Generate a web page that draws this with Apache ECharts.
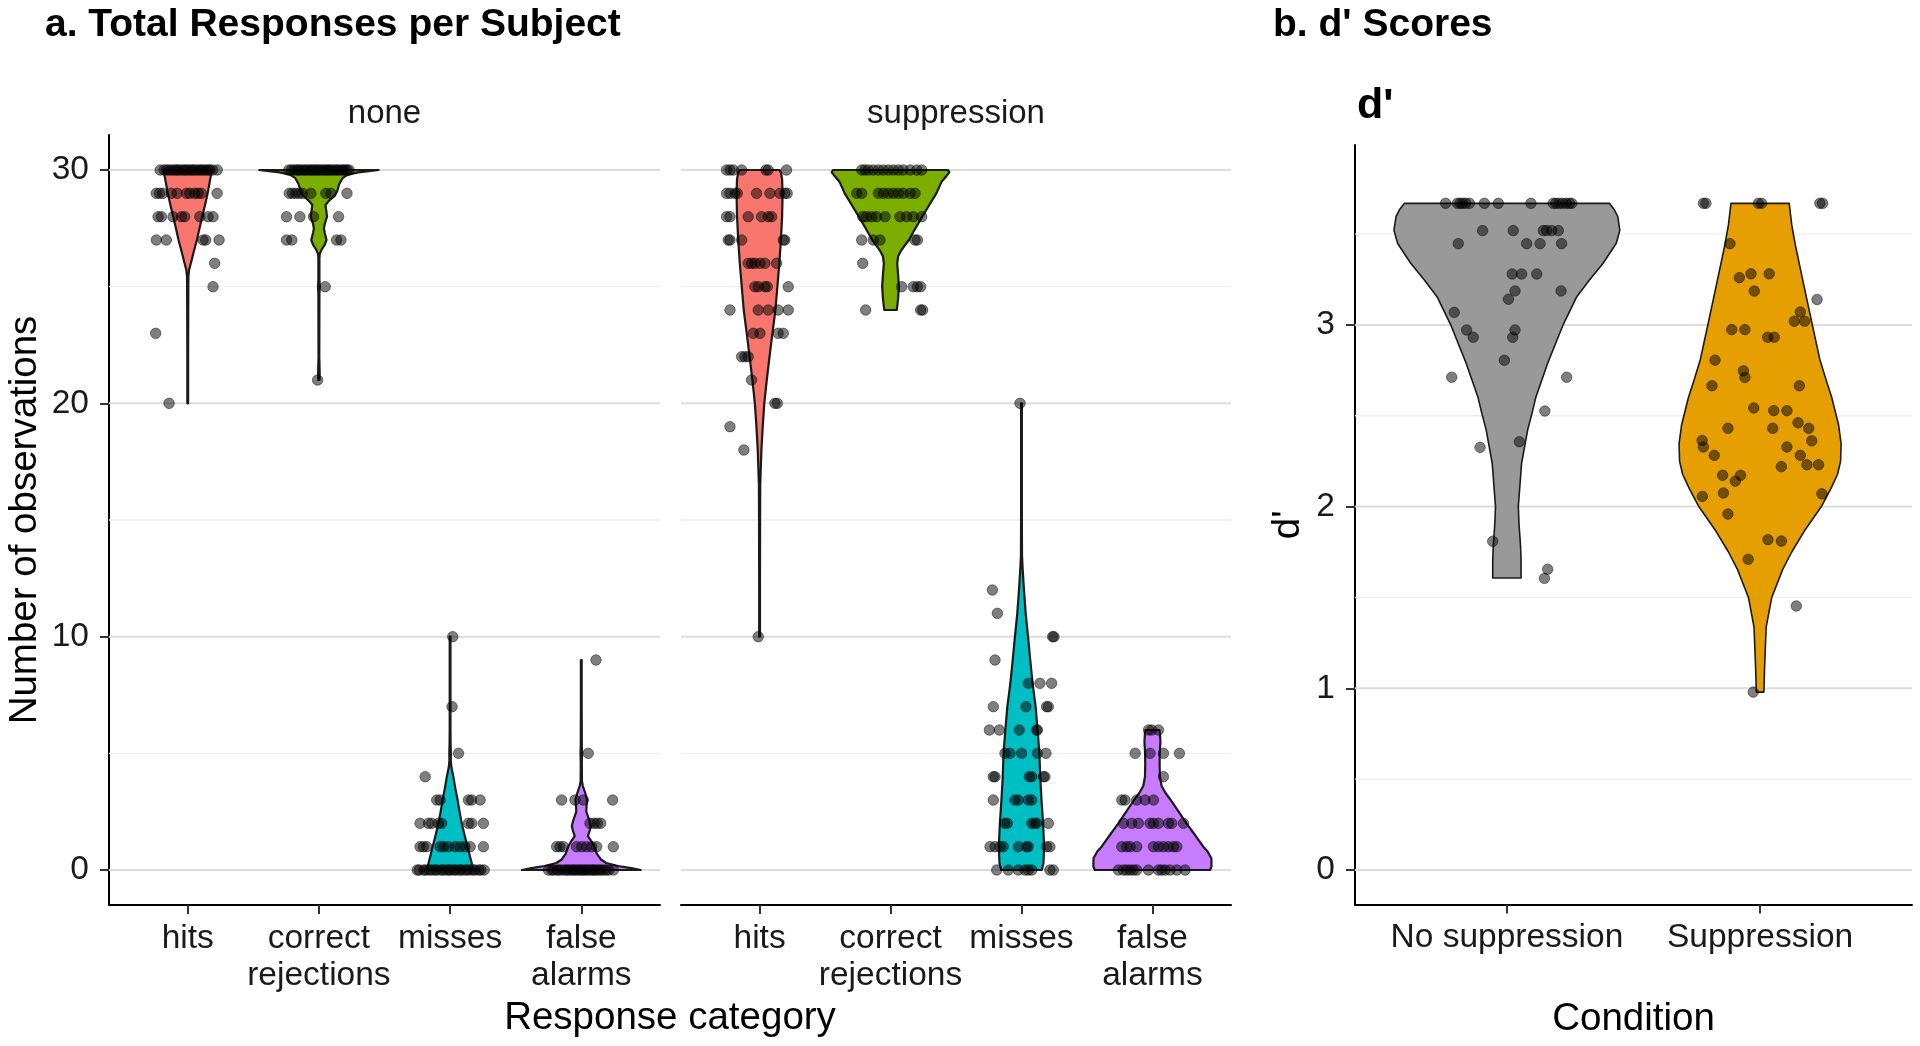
<!DOCTYPE html>
<html><head><meta charset="utf-8">
<script src="https://cdn.jsdelivr.net/npm/echarts@6/dist/echarts.min.js"></script>
<style>html,body{margin:0;padding:0;background:#fff;} #c{width:1920px;height:1046px;}</style>
</head><body><div id="c"></div><script>
// ---------- categories / ticks ----------
const responseCategories = ['hits', 'correct\nrejections', 'misses', 'false\nalarms'];
const facetNames = ['none', 'suppression'];
const countTicks = [0, 10, 20, 30];
const countMinorTicks = [5, 15, 25];
const dprimeConditions = ['No suppression', 'Suppression'];
const dprimeTicks = [0, 1, 2, 3];
const dprimeMinorTicks = [0.5, 1.5, 2.5, 3.5];
const responseColors = ['#F8766D', '#7CAE00', '#00BFC4', '#C77CFF'];
const dprimeColors = ['#999999', '#E69F00'];

// ---------- violin outlines: [value, half-width in category units] ----------
const violinNoneHits = [[30,0.183],[29.8,0.178],[29.5,0.168],[29,0.152],[28.5,0.132],[28,0.11],[27.5,0.09],[27,0.07],[26.5,0.046],[26,0.024],[25.7,0.01],[25.4,0.005],[24,0.004],[22,0.003],[20,0.003]];
const violinNoneCR = [[30,0.455],[29.95,0.38],[29.9,0.3],[29.8,0.22],[29.65,0.18],[29.4,0.155],[29.1,0.14],[28.9,0.12],[28.7,0.08],[28.5,0.05],[28.3,0.055],[28,0.062],[27.7,0.045],[27.5,0.038],[27.3,0.045],[27,0.058],[26.8,0.045],[26.6,0.022],[26.4,0.006],[26.2,0.004],[25.3,0.004],[25,0.007],[24.7,0.004],[22,0.003],[21.3,0.006],[21,0.005]];
const violinNoneMisses = [[0,0.178],[0.5,0.155],[1,0.133],[1.5,0.11],[2,0.089],[2.5,0.072],[3,0.057],[3.5,0.04],[4,0.025],[4.4,0.01],[4.7,0.005],[5,0.006],[5.4,0.004],[6,0.003],[8,0.003],[10,0.003]];
const violinNoneFA = [[0,0.453],[0.08,0.38],[0.17,0.28],[0.3,0.19],[0.45,0.15],[0.7,0.118],[1,0.1],[1.25,0.075],[1.45,0.05],[1.7,0.065],[1.9,0.072],[2.15,0.06],[2.5,0.038],[2.75,0.04],[3,0.045],[3.3,0.03],[3.6,0.012],[3.8,0.005],[4.6,0.004],[5,0.006],[5.4,0.004],[7,0.003],[9,0.003]];
const violinSuppHits = [[30,0.153],[29.85,0.165],[29.6,0.172],[29,0.176],[28,0.172],[27,0.163],[26,0.151],[25,0.136],[24,0.121],[23,0.098],[22,0.076],[21,0.055],[20,0.036],[19,0.024],[18,0.014],[17,0.008],[16.5,0.005],[15,0.004],[12,0.003],[10,0.003]];
const violinSuppCR = [[30,0.44],[29.9,0.449],[29.8,0.435],[29.5,0.39],[29,0.35],[28.5,0.296],[28,0.242],[27.5,0.19],[27,0.14],[26.7,0.1],[26.5,0.076],[26.3,0.058],[26,0.051],[25.5,0.058],[25,0.064],[24.5,0.058],[24,0.048]];
const violinSuppMisses = [[0,0.155],[0.3,0.168],[1,0.173],[2,0.165],[3,0.153],[4,0.143],[5,0.137],[6,0.123],[7,0.108],[8,0.085],[9,0.067],[10,0.05],[11,0.032],[12,0.019],[13,0.008],[13.5,0.004],[15,0.003],[18,0.003],[20,0.003]];
const violinSuppFA = [[0,0.44],[0.15,0.451],[0.5,0.45],[0.8,0.42],[1,0.388],[1.5,0.325],[2,0.26],[2.5,0.2],[3,0.14],[3.3,0.1],[3.6,0.07],[4,0.057],[4.5,0.055],[5,0.056],[5.5,0.061],[5.8,0.058],[6,0.053]];
const violinNoSupp = [[3.669,0.405],[3.632,0.425],[3.596,0.438],[3.52,0.446],[3.449,0.432],[3.339,0.38],[3.247,0.326],[3.155,0.276],[2.994,0.22],[2.789,0.161],[2.605,0.115],[2.513,0.099],[2.422,0.082],[2.238,0.058],[2.0,0.045],[1.9,0.048],[1.78,0.054],[1.7,0.056],[1.607,0.056]];
const violinSupp = [[3.669,0.115],[3.55,0.125],[3.441,0.139],[3.23,0.171],[2.995,0.207],[2.81,0.236],[2.7,0.26],[2.6,0.283],[2.45,0.31],[2.347,0.32],[2.25,0.318],[2.178,0.306],[2.1,0.28],[2.0,0.242],[1.864,0.174],[1.75,0.125],[1.653,0.089],[1.5,0.046],[1.336,0.024],[1.126,0.018],[0.979,0.015]];

// ---------- jittered points: [value, [x jitter offsets]] ----------
const pointsNoneHits = [
 [30,[-0.21,-0.18,-0.16,-0.14,-0.12,-0.1,-0.085,-0.07,-0.05,-0.03,-0.015,0.0,0.02,0.035,0.05,0.07,0.09,0.105,0.12,0.14,0.155,0.17,0.19,0.225]],
 [29,[-0.24,-0.215,-0.19,-0.125,-0.08,-0.01,0.015,0.053,0.079,0.104,0.224]],
 [28,[-0.226,-0.2,-0.112,-0.048,-0.023,0.092,0.155,0.193]],
 [27,[-0.239,-0.163,0.117,0.137,0.239]],
 [26,[0.206]],[25,[0.193]],[23,[-0.244]],[20,[-0.142]]];
const pointsNoneCR = [
 [30,[-0.23,-0.21,-0.19,-0.17,-0.155,-0.14,-0.12,-0.105,-0.09,-0.07,-0.055,-0.04,-0.025,-0.01,0.005,0.02,0.04,0.055,0.07,0.085,0.1,0.12,0.135,0.15,0.17,0.185,0.2,0.215,0.23]],
 [29,[-0.226,-0.201,-0.176,-0.15,-0.125,-0.061,0.053,0.092,0.214]],
 [28,[-0.247,-0.145,-0.041,0.15]],
 [27,[-0.247,-0.206,0.135,0.168]],
 [25,[0.048]],[21,[-0.01]]];
const pointsNoneMisses = [
 [0,[-0.25,-0.235,-0.2,-0.185,-0.16,-0.14,-0.115,-0.1,-0.07,-0.055,-0.03,-0.01,0.005,0.03,0.045,0.07,0.085,0.11,0.13,0.15,0.175,0.19,0.22,0.235,0.26]],
 [1,[-0.229,-0.204,-0.178,-0.076,-0.051,-0.013,0.038,0.076,0.114,0.153,0.254]],
 [2,[-0.229,-0.165,-0.14,-0.089,-0.064,0.14,0.165,0.254]],
 [3,[-0.102,-0.076,0.14,0.165,0.229]],
 [4,[-0.19]],[5,[0.064]],[7,[0.015]],[10,[0.02]]];
const pointsNoneFA = [
 [0,[-0.25,-0.225,-0.21,-0.185,-0.17,-0.15,-0.125,-0.11,-0.095,-0.075,-0.06,-0.045,-0.025,-0.01,0.005,0.02,0.035,0.05,0.07,0.085,0.1,0.115,0.135,0.15,0.17,0.19,0.21,0.245]],
 [1,[-0.188,-0.163,-0.137,-0.036,0.003,0.041,0.079,0.117,0.244]],
 [2,[0.066,0.097,0.122,0.148]],
 [3,[-0.15,-0.048,0.015,0.239]],
 [5,[0.053]],[9,[0.112]]];
const pointsSuppHits = [
 [30,[-0.252,-0.226,-0.201,-0.137,0.048,0.066,0.206]],
 [29,[-0.252,-0.226,-0.188,-0.17,-0.023,0.079,0.155,0.193,0.211]],
 [28,[-0.252,-0.226,-0.087,0.015,0.066,0.092]],
 [27,[-0.239,-0.226,-0.137,0.181,0.193]],
 [26,[-0.087,-0.061,-0.036,0.003,0.041,0.13]],
 [25,[-0.036,-0.01,0.041,0.059,0.219]],
 [24,[-0.226,-0.01,0.066,0.142,0.219]],
 [23,[-0.048,0.003,0.142,0.181]],
 [22,[-0.137,-0.112,-0.087]],
 [21,[-0.061]],[20,[0.117,0.135]],[19,[-0.226]],[18,[-0.12]],[10,[-0.01]]];
const pointsSuppCR = [
 [30,[-0.22,-0.195,-0.169,-0.131,-0.093,-0.055,-0.017,0.022,0.06,0.098,0.149,0.2,0.238]],
 [29,[-0.258,-0.22,-0.093,-0.055,-0.017,0.022,0.06,0.098,0.149,0.187]],
 [28,[-0.212,-0.182,-0.144,-0.106,-0.042,0.072,0.123,0.174,0.238]],
 [27,[-0.22,-0.131,-0.08,0.187,0.205]],
 [26,[-0.212]],
 [25,[0.085,0.174,0.205,0.23]],
 [24,[-0.19,0.23,0.245]]];
const pointsSuppMisses = [
 [0,[-0.189,-0.1,-0.024,0.027,0.052,0.078,0.217,0.243]],
 [1,[-0.24,-0.202,-0.164,-0.139,-0.024,0.039,0.052,0.192,0.217]],
 [2,[-0.126,-0.108,0.078,0.103,0.116,0.205]],
 [3,[-0.215,-0.05,-0.024,0.052,0.078]],
 [4,[-0.215,-0.202,0.06,0.078,0.167,0.179]],
 [5,[-0.126,-0.088,0.001,0.121,0.187]],
 [6,[-0.245,-0.169,-0.017,0.116,0.121]],
 [7,[-0.215,0.034,0.192,0.205]],
 [8,[0.052,0.141,0.23]],
 [9,[-0.202]],[10,[0.238,0.248]],[11,[-0.184]],[12,[-0.222]],[20,[-0.011]]];
const pointsSuppFA = [
 [0,[-0.26,-0.221,-0.196,-0.17,-0.145,-0.12,-0.03,0.046,0.071,0.097,0.135,0.186,0.249]],
 [1,[-0.234,-0.196,-0.17,-0.12,0.008,0.046,0.084,0.122,0.16,0.186]],
 [2,[-0.221,-0.158,-0.107,-0.018,0.008,0.046,0.122,0.148,0.237]],
 [3,[-0.234,-0.209,-0.12,-0.056,0.008]],
 [4,[0.084]],
 [5,[-0.132,-0.018,0.084,0.206]],
 [6,[-0.03,-0.005,0.046]]];

// d' points: [x jitter offset, d']
const dprimeNoSuppPoints = [
 [-0.242,3.669],[-0.196,3.669],[-0.185,3.669],[-0.175,3.669],[-0.163,3.669],[-0.148,3.669],[-0.089,3.669],[-0.034,3.669],[0.095,3.669],[0.183,3.669],[0.194,3.669],[0.207,3.669],[0.22,3.669],[0.234,3.669],[0.247,3.669],[0.256,3.669],
 [-0.096,3.519],[0.025,3.519],[0.144,3.519],[0.157,3.519],[0.177,3.519],[0.203,3.519],
 [-0.192,3.447],[0.078,3.447],[0.131,3.447],[0.216,3.447],
 [0.021,3.28],[0.058,3.28],[0.118,3.28],[0.032,3.187],[0.214,3.187],[0.006,3.141],
 [-0.208,3.069],[-0.159,2.972],[-0.133,2.932],[0.032,2.972],[0.023,2.932],[-0.01,2.805],
 [-0.218,2.712],[0.236,2.712],[0.15,2.526],[0.049,2.357],[-0.106,2.326],
 [-0.056,1.809],[0.161,1.655],[0.148,1.605]];
const dprimeSuppPoints = [
 [-0.224,3.669],[-0.214,3.669],[-0.007,3.669],[0.006,3.669],[0.236,3.669],[0.247,3.669],
 [-0.119,3.447],[-0.082,3.26],[-0.036,3.281],[0.036,3.281],[-0.023,3.186],[0.225,3.14],
 [0.159,3.071],[0.135,3.02],[0.176,3.02],[-0.112,2.974],[-0.06,2.974],[0.03,2.932],[0.056,2.932],
 [-0.178,2.806],[-0.066,2.747],[-0.06,2.711],[-0.19,2.665],[0.155,2.665],
 [-0.025,2.543],[0.054,2.528],[0.106,2.528],[-0.127,2.431],[0.05,2.431],[0.15,2.461],[0.192,2.431],
 [-0.229,2.364],[-0.224,2.328],[0.204,2.362],[-0.181,2.282],[0.106,2.328],[0.159,2.282],
 [0.084,2.22],[0.185,2.23],[0.231,2.23],[-0.148,2.172],[-0.077,2.172],[-0.098,2.14],
 [-0.145,2.075],[-0.228,2.056],[0.244,2.07],[-0.127,1.959],
 [0.031,1.818],[0.084,1.81],[-0.047,1.71],[0.143,1.453],[-0.027,0.979]];

// ---------- axis limits ----------
const facetXLimits = [0.4, 4.6];
const countLimits = [-1.5, 31.5];
const condXLimits = [0.4, 2.6];
const dprimeLimits = [-0.19, 3.99];

const FONT = 'Liberation Sans, Arial, sans-serif';
const TXT = '#1a1a1a';

function expandRows(groups) {
  const out = [];
  groups.forEach((rows, ci) => rows.forEach(([v, offs]) => offs.forEach(o => out.push([ci + 1 + o, v]))));
  return out;
}
function expandPairs(groups) {
  const out = [];
  groups.forEach((pairs, ci) => pairs.forEach(([o, v]) => out.push([ci + 1 + o, v])));
  return out;
}

function violinSeries(idx, outlines, colors, lw) {
  return {
    type: 'custom', xAxisIndex: idx, yAxisIndex: idx, z: 3, silent: true, clip: false,
    data: outlines.map((o, i) => [i + 1, o[0][0]]),
    renderItem: function (params, api) {
      const i = params.dataIndex, o = outlines[i], c = i + 1;
      const pts = [];
      for (let k = 0; k < o.length; k++) pts.push(api.coord([c + o[k][1], o[k][0]]));
      for (let k = o.length - 1; k >= 0; k--) pts.push(api.coord([c - o[k][1], o[k][0]]));
      return { type: 'polygon', shape: { points: pts },
        style: { fill: colors[i], stroke: '#1a1a1a', lineWidth: lw, lineJoin: 'round' } };
    }
  };
}
function gridSeries(idx, xl, major, minor) {
  const vals = major.concat(minor);
  return {
    type: 'custom', xAxisIndex: idx, yAxisIndex: idx, z: 1, silent: true, clip: false,
    data: vals.map(v => [xl[0], v]),
    renderItem: function (params, api) {
      const v = api.value(1), isMajor = params.dataIndex < major.length;
      const a = api.coord([xl[0], v]), b = api.coord([xl[1], v]);
      return { type: 'line', shape: { x1: a[0], y1: a[1], x2: b[0], y2: b[1] },
        style: { stroke: isMajor ? '#dcdcdc' : '#eeeeee', lineWidth: isMajor ? 2 : 1.3 } };
    }
  };
}
function scatterSeries(idx, data) {
  return {
    type: 'scatter', xAxisIndex: idx, yAxisIndex: idx, z: 5, silent: true,
    symbol: 'circle', symbolSize: 10.5, data: data,
    itemStyle: { color: 'rgba(0,0,0,0.5)', borderColor: 'rgba(0,0,0,0.45)', borderWidth: 1, opacity: 1 }
  };
}
const axisLine = { show: true, onZero: false, lineStyle: { color: '#000', width: 2 } };
function ticks(vals) { return { show: true, customValues: vals, length: 9, lineStyle: { color: '#333', width: 2 } }; }
function labels(vals, fmt, margin, lh) {
  return { show: true, customValues: vals, formatter: fmt, fontSize: 33.5, color: TXT, margin: margin, lineHeight: lh || 34, fontFamily: FONT };
}
const catFmt = v => responseCategories[Math.round(v) - 1] || '';
const condFmt = v => dprimeConditions[Math.round(v) - 1] || '';

const chart = echarts.init(document.getElementById('c'), null, { renderer: 'canvas' });
chart.setOption({
  animation: false,
  backgroundColor: '#ffffff',
  textStyle: { fontFamily: FONT },
  title: [
    { text: 'a. Total Responses per Subject', left: 45, top: 6, padding: 0, textStyle: { fontSize: 39, fontWeight: 'bold', color: '#000', fontFamily: FONT } },
    { text: "b. d' Scores", left: 1273, top: 6, padding: 0, textStyle: { fontSize: 39, fontWeight: 'bold', color: '#000', fontFamily: FONT } },
    { text: facetNames[0], left: 384.5, top: 97, padding: 0, textAlign: 'center', textStyle: { fontSize: 33, fontWeight: 'normal', color: TXT, fontFamily: FONT } },
    { text: facetNames[1], left: 956, top: 97, padding: 0, textAlign: 'center', textStyle: { fontSize: 33, fontWeight: 'normal', color: TXT, fontFamily: FONT } },
    { text: "d'", left: 1357, top: 85, padding: 0, textStyle: { fontSize: 43, fontWeight: 'bold', color: '#000', fontFamily: FONT } },
    { text: 'Response category', left: 670, top: 999, padding: 0, textAlign: 'center', textStyle: { fontSize: 38.5, fontWeight: 'normal', color: '#000', fontFamily: FONT } }
  ],
  grid: [
    { left: 109, top: 135, width: 551, height: 770 },
    { left: 681, top: 135, width: 550, height: 770 },
    { left: 1355, top: 145, width: 557, height: 759.5 }
  ],
  xAxis: [
    { gridIndex: 0, type: 'value', min: facetXLimits[0], max: facetXLimits[1], splitLine: { show: false },
      axisLine: axisLine, axisTick: ticks([1,2,3,4]), axisLabel: labels([1,2,3,4], catFmt, 15, 37) },
    { gridIndex: 1, type: 'value', min: facetXLimits[0], max: facetXLimits[1], splitLine: { show: false },
      axisLine: axisLine, axisTick: ticks([1,2,3,4]), axisLabel: labels([1,2,3,4], catFmt, 15, 37) },
    { gridIndex: 2, type: 'value', min: condXLimits[0], max: condXLimits[1], splitLine: { show: false },
      axisLine: axisLine, axisTick: ticks([1,2]), axisLabel: labels([1,2], condFmt, 16),
      name: 'Condition', nameLocation: 'middle', nameGap: 95,
      nameTextStyle: { fontSize: 38.5, color: '#000', fontFamily: FONT } }
  ],
  yAxis: [
    { gridIndex: 0, type: 'value', min: countLimits[0], max: countLimits[1], splitLine: { show: false },
      axisLine: axisLine, axisTick: ticks(countTicks), axisLabel: labels(countTicks, v => String(v), 20),
      name: 'Number of observations', nameLocation: 'middle', nameGap: 64,
      nameTextStyle: { fontSize: 38.5, color: '#000', fontFamily: FONT } },
    { gridIndex: 1, type: 'value', min: countLimits[0], max: countLimits[1], show: false, splitLine: { show: false } },
    { gridIndex: 2, type: 'value', min: dprimeLimits[0], max: dprimeLimits[1], splitLine: { show: false },
      axisLine: axisLine, axisTick: ticks(dprimeTicks), axisLabel: labels(dprimeTicks, v => String(v), 20),
      name: "d'", nameLocation: 'middle', nameGap: 47,
      nameTextStyle: { fontSize: 38.5, color: '#000', fontFamily: FONT } }
  ],
  series: [
    gridSeries(0, facetXLimits, countTicks, countMinorTicks),
    gridSeries(1, facetXLimits, countTicks, countMinorTicks),
    gridSeries(2, condXLimits, dprimeTicks, dprimeMinorTicks),
    violinSeries(0, [violinNoneHits, violinNoneCR, violinNoneMisses, violinNoneFA], responseColors, 2.2),
    violinSeries(1, [violinSuppHits, violinSuppCR, violinSuppMisses, violinSuppFA], responseColors, 2.2),
    violinSeries(2, [violinNoSupp, violinSupp], dprimeColors, 1.6),
    scatterSeries(0, expandRows([pointsNoneHits, pointsNoneCR, pointsNoneMisses, pointsNoneFA])),
    scatterSeries(1, expandRows([pointsSuppHits, pointsSuppCR, pointsSuppMisses, pointsSuppFA])),
    scatterSeries(2, expandPairs([dprimeNoSuppPoints, dprimeSuppPoints]))
  ]
});
</script></body></html>
